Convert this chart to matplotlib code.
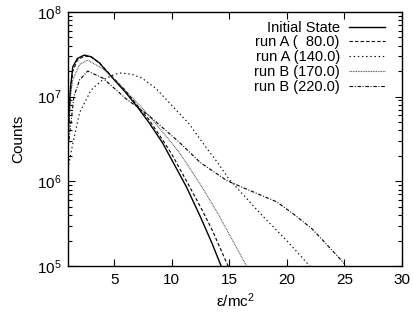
import matplotlib

matplotlib.use("Agg")
import matplotlib.pyplot as plt
from matplotlib.ticker import FixedLocator, LogLocator, NullFormatter

plt.rcParams["font.family"] = ["Liberation Sans", "DejaVu Sans"]
plt.rcParams["mathtext.default"] = "regular"
plt.rcParams["lines.scale_dashes"] = False

# values (energy in mc^2, counts)
x_init = [1.0, 1.2, 1.4, 1.8, 2.4, 3.0, 3.7, 5.0, 6.0, 7.0, 8.0, 9.2, 10.0, 11.3, 12.5, 13.5, 14.3]
y_init = [4.0e6, 1.26e7, 2.24e7, 2.82e7, 3.09e7, 2.95e7, 2.51e7, 1.58e7, 1.12e7, 7.6e6, 5.0e6,
          2.85e6, 1.8e6, 8.5e5, 3.8e5, 1.86e5, 1.0e5]

x_a80 = [1.0, 1.2, 1.4, 1.8, 2.4, 3.0, 3.7, 5.0, 6.0, 7.0, 8.0, 9.2, 10.0, 11.3, 12.5, 13.5, 14.9]
y_a80 = [3.16e6, 1.12e7, 2.0e7, 2.69e7, 3.02e7, 2.95e7, 2.51e7, 1.62e7, 1.17e7, 7.9e6, 5.4e6,
         3.1e6, 2.1e6, 1.0e6, 5.0e5, 2.7e5, 1.0e5]

x_a140 = [1.05, 1.35, 2.0, 3.0, 4.0, 5.0, 5.5, 6.5, 7.4, 8.6, 10.0, 11.5, 13.0, 14.0, 15.0, 16.5,
          17.9, 20.0, 22.0]
y_a140 = [1.58e6, 2.57e6, 6.5e6, 1.2e7, 1.58e7, 1.82e7, 1.9e7, 1.84e7, 1.66e7, 1.26e7, 7.9e6,
          4.8e6, 2.5e6, 1.66e6, 1.05e6, 6.3e5, 3.9e5, 2.0e5, 1.0e5]

x_b170 = [1.0, 1.2, 1.4, 2.0, 2.7, 4.0, 5.0, 6.0, 7.0, 8.0, 9.3, 10.65, 11.6, 12.65, 14.0, 15.3, 16.5]
y_b170 = [3.16e6, 1.0e7, 1.58e7, 2.4e7, 2.69e7, 2.14e7, 1.62e7, 1.17e7, 8.5e6, 6.0e6, 3.7e6,
          2.2e6, 1.41e6, 8.5e5, 4.2e5, 2.0e5, 1.0e5]

x_b220 = [1.0, 1.5, 2.0, 2.7, 4.0, 5.0, 6.0, 8.0, 10.65, 12.5, 14.8, 16.7, 19.1, 20.5, 22.2, 23.5, 25.0]
y_b220 = [2.5e6, 1.0e7, 1.58e7, 2.0e7, 1.66e7, 1.26e7, 9.5e6, 6.0e6, 2.9e6, 1.66e6, 1.02e6,
          7.9e5, 5.75e5, 4.2e5, 2.75e5, 1.78e5, 1.07e5]

labels = ["Initial State", "run A (  80.0)", "run A (140.0)", "run B (170.0)", "run B (220.0)"]
x_ticks = [5, 10, 15, 20, 25, 30]

fig = plt.figure(figsize=(4.13, 3.21), dpi=100)
ax = fig.add_axes([0.165, 0.171, 0.808, 0.792])

lw = 0.8
ax.plot(x_init, y_init, color="black", lw=1.0, ls="-", label=labels[0])
ax.plot(x_a80, y_a80, color="black", lw=lw, ls=(0, (2.4, 1.6)), label=labels[1])
ax.plot(x_a140, y_a140, color="black", lw=lw, ls=(0, (1.0, 2.0)), label=labels[2])
ax.plot(x_b170, y_b170, color="#444444", lw=lw, ls=(0, (0.6, 0.6)), label=labels[3])
ax.plot(x_b220, y_b220, color="black", lw=lw, ls=(0, (2.6, 1.2, 0.7, 1.2)), label=labels[4])

ax.set_yscale("log")
ax.set_xlim(1, 30)
ax.set_ylim(1e5, 1e8)
ax.xaxis.set_major_locator(FixedLocator(x_ticks))
ax.set_xticklabels([str(t) for t in x_ticks])
ax.yaxis.set_major_locator(LogLocator(base=10, numticks=10))
ax.yaxis.set_minor_locator(LogLocator(base=10, subs=range(2, 10), numticks=10))
ax.yaxis.set_minor_formatter(NullFormatter())

ax.tick_params(which="both", direction="in", top=True, right=True, labelsize=11, width=0.8)
ax.tick_params(which="major", length=5, pad=5)
ax.tick_params(which="minor", length=3)
for s in ax.spines.values():
    s.set_linewidth(1.0)

ax.set_xlabel("ε/mc$^2$", fontsize=11, labelpad=3)
ax.set_ylabel("Counts", fontsize=11, labelpad=8)

leg = ax.legend(
    loc="upper right",
    bbox_to_anchor=(0.967, 0.988),
    markerfirst=False,
    frameon=False,
    fontsize=10.5,
    handlelength=2.5,
    handletextpad=0.6,
    labelspacing=0.05,
    borderaxespad=0.0,
)

fig.savefig("out.png", dpi=100)
